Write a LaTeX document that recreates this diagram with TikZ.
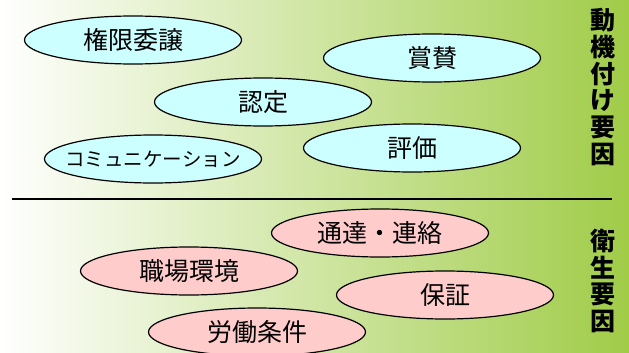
\documentclass[tikz,border=0pt]{standalone}
\usepackage{fontspec}
\newfontfamily\cjk{Noto Sans CJK JP}
\usetikzlibrary{shapes.geometric}
\definecolor{bggreen}{RGB}{160,204,72}
\definecolor{motivfill}{RGB}{204,255,255}
\definecolor{hygfill}{RGB}{255,204,204}
\tikzset{
  factor/.style={ellipse,draw=black,line width=1.2pt,minimum width=217pt,minimum height=48pt,inner sep=0pt,font=\cjk\fontsize{25}{25}\selectfont},
  motiv/.style={factor,fill=motivfill},
  hyg/.style={factor,fill=hygfill},
  sidelabel/.style={align=center,inner sep=0pt,font=\cjk\bfseries\fontsize{25}{26.8}\selectfont}
}
\begin{document}
\begin{tikzpicture}[x=1pt,y=-1pt]
% Background
\useasboundingbox (0,0) rectangle (629,353);
\shade[left color=white,right color=bggreen] (0,0) rectangle (629,353);

% Motivation factors
\node[motiv] (kengen) at (133,40) {権限委譲};
\node[motiv] (shosan) at (432,58) {賞賛};
\node[motiv] (nintei) at (263,102) {認定};
\node[motiv] (hyoka) at (412,148) {評価};
\node[motiv,inner sep=-16pt,font=\cjk\fontsize{19.5}{19.5}\selectfont] (comm) at (153,159) {コミュニケーション};

% Divider
\coordinate (divl) at (12,199);
\coordinate (divr) at (612,199);
\draw[line width=2pt] (divl) -- (divr);

% Hygiene factors
\node[hyg] (tsutatsu) at (380,233) {通達・連絡};
\node[hyg] (shokuba) at (189,271) {職場環境};
\node[hyg] (hosho) at (445,295) {保証};
\node[hyg] (rodo) at (257,332) {労働条件};

% Side labels
\node[sidelabel] (motivlabel) at (603,87) {動\\機\\付\\け\\要\\因};
\node[sidelabel] (hyglabel) at (603,281) {衛\\生\\要\\因};
\end{tikzpicture}
\end{document}
